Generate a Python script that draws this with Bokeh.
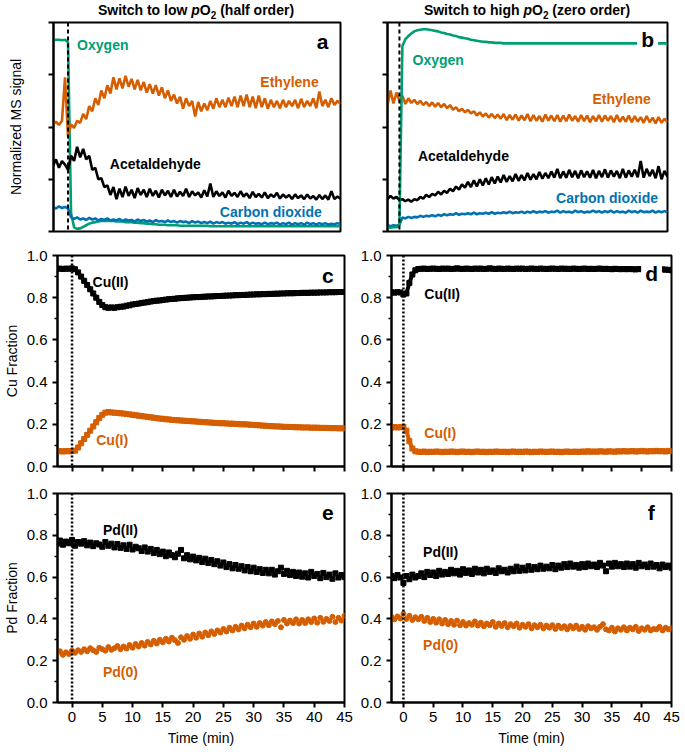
from bokeh.plotting import figure
from bokeh.layouts import column, row
from bokeh.models import Div, Span, Label, FixedTicker, Range1d, PrintfTickFormatter
from bokeh.embed import file_html
from bokeh.resources import INLINE

# ---------------- data ----------------
time_min = [
    -2.5, -2.0, -1.5, -1.0, -0.5, 0.0, 0.5, 1.0, 1.5, 2.0,
    2.5, 3.0, 3.5, 4.0, 4.5, 5.0, 5.5, 6.0, 6.5, 7.0,
    7.5, 8.0, 8.5, 9.0, 9.5, 10.0, 10.5, 11.0, 11.5, 12.0,
    12.5, 13.0, 13.5, 14.0, 14.5, 15.0, 15.5, 16.0, 16.5, 17.0,
    17.5, 18.0, 18.5, 19.0, 19.5, 20.0, 20.5, 21.0, 21.5, 22.0,
    22.5, 23.0, 23.5, 24.0, 24.5, 25.0, 25.5, 26.0, 26.5, 27.0,
    27.5, 28.0, 28.5, 29.0, 29.5, 30.0, 30.5, 31.0, 31.5, 32.0,
    32.5, 33.0, 33.5, 34.0, 34.5, 35.0, 35.5, 36.0, 36.5, 37.0,
    37.5, 38.0, 38.5, 39.0, 39.5, 40.0, 40.5, 41.0, 41.5, 42.0,
    42.5, 43.0, 43.5, 44.0, 44.5, 45.0]

# Panel a: switch to low pO2 (normalized MS signal, arbitrary units 0-4)
oxygen_a = [
    3.66, 3.67, 3.67, 3.66, 3.67, 3.62, 0.35, 0.08, 0.05, 0.06,
    0.09, 0.12, 0.15, 0.17, 0.18, 0.19, 0.20, 0.20, 0.20, 0.20,
    0.20, 0.19, 0.19, 0.19, 0.18, 0.18, 0.18, 0.17, 0.17, 0.16,
    0.16, 0.15, 0.15, 0.14, 0.14, 0.13, 0.13, 0.13, 0.12, 0.12,
    0.12, 0.12, 0.11, 0.11, 0.11, 0.11, 0.11, 0.11, 0.11, 0.11,
    0.11, 0.11, 0.10, 0.10, 0.10, 0.10, 0.10, 0.10, 0.10, 0.10,
    0.10, 0.10, 0.10, 0.10, 0.10, 0.10, 0.10, 0.10, 0.10, 0.10,
    0.10, 0.10, 0.10, 0.10, 0.10, 0.10, 0.10, 0.10, 0.10, 0.10,
    0.10, 0.10, 0.10, 0.10, 0.10, 0.10, 0.10, 0.10, 0.10, 0.10,
    0.10, 0.10, 0.10, 0.10, 0.10, 0.10]
ethylene_a = [
    2.05, 2.10, 2.04, 2.12, 2.95, 1.82, 2.05, 1.98, 2.12, 2.08,
    2.25, 2.15, 2.40, 2.30, 2.55, 2.42, 2.70, 2.55, 2.80, 2.64,
    2.95, 2.72, 2.93, 2.74, 2.98, 2.77, 2.92, 2.72, 2.90, 2.70,
    2.86, 2.66, 2.82, 2.64, 2.80, 2.60, 2.76, 2.55, 2.70, 2.50,
    2.62, 2.45, 2.58, 2.35, 2.55, 2.40, 2.50, 2.20, 2.48, 2.30,
    2.45, 2.32, 2.50, 2.35, 2.55, 2.38, 2.52, 2.38, 2.56, 2.40,
    2.58, 2.38, 2.60, 2.40, 2.62, 2.38, 2.58, 2.36, 2.60, 2.38,
    2.55, 2.35, 2.52, 2.38, 2.50, 2.36, 2.52, 2.38, 2.50, 2.40,
    2.52, 2.36, 2.54, 2.38, 2.50, 2.40, 2.55, 2.36, 2.68, 2.40,
    2.52, 2.38, 2.55, 2.42, 2.50, 2.44]
acetaldehyde_a = [
    1.25, 1.38, 1.22, 1.35, 1.28, 1.18, 1.45, 1.35, 1.62, 1.42,
    1.58, 1.38, 1.45, 1.18, 1.22, 1.00, 1.02, 0.85, 0.88, 0.70,
    0.85, 0.62, 0.82, 0.66, 0.86, 0.68, 0.80, 0.64, 0.83, 0.70,
    0.80, 0.66, 0.82, 0.68, 0.78, 0.65, 0.80, 0.69, 0.78, 0.66,
    0.80, 0.67, 0.76, 0.68, 0.82, 0.66, 0.77, 0.69, 0.75, 0.65,
    0.79, 0.67, 0.92, 0.66, 0.77, 0.68, 0.75, 0.65, 0.78, 0.68,
    0.74, 0.66, 0.77, 0.67, 0.73, 0.64, 0.76, 0.66, 0.72, 0.65,
    0.75, 0.64, 0.71, 0.66, 0.74, 0.63, 0.71, 0.65, 0.70, 0.62,
    0.71, 0.64, 0.69, 0.62, 0.71, 0.63, 0.68, 0.61, 0.70, 0.62,
    0.69, 0.61, 0.77, 0.62, 0.67, 0.63]
co2_a = [
    0.47, 0.44, 0.48, 0.45, 0.47, 0.44, 0.27, 0.24, 0.27, 0.23,
    0.25, 0.22, 0.26, 0.23, 0.25, 0.21, 0.24, 0.22, 0.25, 0.21,
    0.23, 0.21, 0.24, 0.20, 0.23, 0.21, 0.22, 0.19, 0.23, 0.20,
    0.22, 0.19, 0.21, 0.18, 0.22, 0.19, 0.20, 0.18, 0.21, 0.18,
    0.20, 0.17, 0.20, 0.18, 0.19, 0.16, 0.20, 0.17, 0.19, 0.16,
    0.18, 0.16, 0.19, 0.15, 0.18, 0.16, 0.18, 0.15, 0.17, 0.15,
    0.18, 0.14, 0.17, 0.15, 0.18, 0.14, 0.17, 0.15, 0.16, 0.14,
    0.17, 0.14, 0.16, 0.15, 0.17, 0.13, 0.16, 0.14, 0.17, 0.13,
    0.16, 0.14, 0.16, 0.13, 0.17, 0.14, 0.16, 0.13, 0.16, 0.14,
    0.16, 0.13, 0.15, 0.14, 0.16, 0.14]

# Panel b: switch to high pO2
oxygen_b = [
    0.08, 0.08, 0.07, 0.08, 0.08, 0.12, 3.55, 3.68, 3.74, 3.79,
    3.83, 3.85, 3.86, 3.87, 3.87, 3.86, 3.85, 3.84, 3.83, 3.81,
    3.80, 3.78, 3.77, 3.75, 3.74, 3.72, 3.71, 3.70, 3.69, 3.67,
    3.66, 3.65, 3.64, 3.63, 3.63, 3.62, 3.62, 3.61, 3.61, 3.61,
    3.60, 3.60, 3.60, 3.60, 3.60, 3.60, 3.60, 3.60, 3.60, 3.60,
    3.60, 3.60, 3.60, 3.60, 3.60, 3.60, 3.60, 3.60, 3.60, 3.60,
    3.60, 3.60, 3.60, 3.60, 3.60, 3.60, 3.60, 3.60, 3.60, 3.60,
    3.60, 3.60, 3.60, 3.60, 3.60, 3.60, 3.60, 3.60, 3.60, 3.60,
    3.60, 3.60, 3.60, 3.60, 3.60, 3.60, 3.60, 3.60, 3.60, 3.60,
    3.60, 3.60, 3.60, 3.60, 3.60, 3.60]
ethylene_b = [
    2.60, 2.42, 2.70, 2.45, 2.66, 2.50, 2.60, 2.44, 2.55, 2.46,
    2.52, 2.44, 2.50, 2.42, 2.48, 2.40, 2.47, 2.39, 2.46, 2.38,
    2.44, 2.36, 2.42, 2.33, 2.38, 2.30, 2.35, 2.28, 2.33, 2.26,
    2.30, 2.22, 2.28, 2.20, 2.26, 2.18, 2.25, 2.17, 2.24, 2.16,
    2.25, 2.13, 2.23, 2.14, 2.24, 2.12, 2.22, 2.13, 2.25, 2.11,
    2.23, 2.12, 2.21, 2.10, 2.24, 2.12, 2.22, 2.11, 2.23, 2.10,
    2.22, 2.11, 2.24, 2.12, 2.21, 2.10, 2.23, 2.11, 2.22, 2.09,
    2.21, 2.11, 2.23, 2.10, 2.22, 2.12, 2.21, 2.09, 2.23, 2.10,
    2.20, 2.10, 2.22, 2.09, 2.21, 2.10, 2.19, 2.08, 2.21, 2.09,
    2.18, 2.07, 2.19, 2.08, 2.16, 2.09]
acetaldehyde_b = [
    0.66, 0.62, 0.68, 0.63, 0.66, 0.60, 0.62, 0.58, 0.61, 0.57,
    0.62, 0.60, 0.66, 0.63, 0.70, 0.66, 0.72, 0.69, 0.76, 0.71,
    0.78, 0.74, 0.82, 0.77, 0.86, 0.80, 0.90, 0.84, 0.95, 0.85,
    0.98, 0.86, 1.00, 0.88, 1.02, 0.90, 1.04, 0.92, 1.05, 0.94,
    1.08, 0.95, 1.06, 0.96, 1.10, 0.97, 1.08, 0.98, 1.12, 0.99,
    1.10, 1.00, 1.14, 1.01, 1.12, 1.02, 1.15, 1.03, 1.20, 1.02,
    1.15, 1.03, 1.18, 1.04, 1.16, 1.02, 1.17, 1.04, 1.15, 1.03,
    1.18, 1.02, 1.16, 1.04, 1.19, 1.03, 1.17, 1.05, 1.16, 1.02,
    1.20, 1.03, 1.17, 1.05, 1.18, 1.04, 1.35, 1.03, 1.20, 1.06,
    1.18, 1.02, 1.25, 1.00, 1.16, 1.05]
co2_b = [
    0.11, 0.12, 0.10, 0.12, 0.11, 0.13, 0.27, 0.25, 0.28, 0.26,
    0.28, 0.27, 0.30, 0.28, 0.30, 0.29, 0.31, 0.29, 0.32, 0.30,
    0.33, 0.31, 0.33, 0.32, 0.35, 0.32, 0.34, 0.33, 0.35, 0.33,
    0.36, 0.33, 0.35, 0.34, 0.36, 0.34, 0.37, 0.34, 0.36, 0.35,
    0.37, 0.35, 0.38, 0.35, 0.37, 0.36, 0.38, 0.35, 0.38, 0.36,
    0.39, 0.36, 0.38, 0.37, 0.39, 0.36, 0.38, 0.37, 0.40, 0.36,
    0.39, 0.37, 0.38, 0.36, 0.40, 0.37, 0.39, 0.36, 0.38, 0.37,
    0.40, 0.37, 0.39, 0.36, 0.39, 0.37, 0.40, 0.36, 0.39, 0.37,
    0.38, 0.36, 0.40, 0.37, 0.39, 0.36, 0.40, 0.37, 0.38, 0.37,
    0.40, 0.36, 0.39, 0.37, 0.39, 0.37]

# Panel c / d: Cu fractions
cu2_c = [
    0.937, 0.938, 0.936, 0.938, 0.937, 0.939, 0.935, 0.920, 0.900, 0.880,
    0.860, 0.840, 0.820, 0.800, 0.780, 0.765, 0.755, 0.752, 0.754, 0.752,
    0.755, 0.757, 0.758, 0.762, 0.764, 0.768, 0.770, 0.772, 0.775, 0.777,
    0.779, 0.782, 0.784, 0.786, 0.787, 0.789, 0.791, 0.793, 0.794, 0.795,
    0.797, 0.798, 0.799, 0.800, 0.801, 0.802, 0.803, 0.803, 0.804, 0.805,
    0.806, 0.806, 0.807, 0.808, 0.808, 0.809, 0.810, 0.810, 0.811, 0.812,
    0.812, 0.813, 0.813, 0.814, 0.815, 0.815, 0.816, 0.816, 0.817, 0.817,
    0.818, 0.818, 0.819, 0.819, 0.820, 0.820, 0.821, 0.821, 0.821, 0.822,
    0.822, 0.823, 0.823, 0.823, 0.824, 0.824, 0.824, 0.825, 0.825, 0.825,
    0.826, 0.826, 0.826, 0.827, 0.827, 0.827]
cu1_c = [
    0.072, 0.073, 0.071, 0.073, 0.072, 0.073, 0.075, 0.090, 0.110, 0.130,
    0.150, 0.170, 0.190, 0.210, 0.230, 0.245, 0.255, 0.258, 0.256, 0.255,
    0.254, 0.252, 0.251, 0.249, 0.247, 0.245, 0.243, 0.241, 0.239, 0.237,
    0.235, 0.233, 0.231, 0.229, 0.227, 0.226, 0.224, 0.223, 0.221, 0.220,
    0.219, 0.218, 0.217, 0.216, 0.215, 0.214, 0.213, 0.212, 0.211, 0.210,
    0.209, 0.208, 0.207, 0.206, 0.205, 0.205, 0.204, 0.203, 0.203, 0.202,
    0.201, 0.200, 0.200, 0.199, 0.198, 0.197, 0.196, 0.195, 0.194, 0.193,
    0.192, 0.191, 0.190, 0.190, 0.189, 0.188, 0.188, 0.187, 0.187, 0.186,
    0.186, 0.185, 0.185, 0.185, 0.184, 0.184, 0.184, 0.183, 0.183, 0.183,
    0.182, 0.182, 0.182, 0.181, 0.181, 0.181]
cu2_d = [
    0.825, 0.826, 0.824, 0.826, 0.825, 0.815, 0.820, 0.870, 0.910, 0.930,
    0.936, 0.937, 0.938, 0.936, 0.937, 0.938, 0.937, 0.936, 0.938, 0.937,
    0.938, 0.936, 0.937, 0.939, 0.937, 0.936, 0.938, 0.937, 0.936, 0.938,
    0.937, 0.938, 0.936, 0.937, 0.939, 0.937, 0.936, 0.938, 0.937, 0.936,
    0.938, 0.937, 0.936, 0.938, 0.937, 0.938, 0.936, 0.937, 0.938, 0.937,
    0.936, 0.938, 0.937, 0.936, 0.937, 0.938, 0.937, 0.936, 0.938, 0.937,
    0.937, 0.936, 0.938, 0.937, 0.936, 0.937, 0.938, 0.936, 0.937, 0.936,
    0.937, 0.938, 0.936, 0.937, 0.936, 0.935, 0.937, 0.936, 0.935, 0.936,
    0.935, 0.936, 0.935, 0.934, 0.936, 0.935, 0.934, 0.935, 0.934, 0.935,
    0.934, 0.935, 0.934, 0.933, 0.932, 0.930]
cu1_d = [
    0.186, 0.184, 0.187, 0.185, 0.186, 0.188, 0.170, 0.120, 0.085, 0.072,
    0.070, 0.069, 0.071, 0.068, 0.070, 0.069, 0.071, 0.070, 0.068, 0.070,
    0.069, 0.071, 0.070, 0.068, 0.070, 0.071, 0.069, 0.070, 0.068, 0.070,
    0.071, 0.069, 0.070, 0.068, 0.070, 0.069, 0.071, 0.070, 0.069, 0.070,
    0.068, 0.070, 0.071, 0.069, 0.070, 0.069, 0.071, 0.070, 0.068, 0.070,
    0.069, 0.071, 0.070, 0.069, 0.070, 0.071, 0.069, 0.070, 0.068, 0.070,
    0.071, 0.069, 0.070, 0.070, 0.069, 0.071, 0.070, 0.072, 0.070, 0.071,
    0.070, 0.072, 0.071, 0.070, 0.072, 0.071, 0.070, 0.072, 0.071, 0.073,
    0.071, 0.072, 0.073, 0.071, 0.072, 0.074, 0.072, 0.071, 0.073, 0.072,
    0.074, 0.072, 0.073, 0.071, 0.074, 0.073]

# Panel e / f: Pd fractions
pd2_e = [
    0.760, 0.775, 0.755, 0.770, 0.762, 0.778, 0.750, 0.768, 0.760, 0.772,
    0.752, 0.765, 0.748, 0.762, 0.756, 0.745, 0.768, 0.750, 0.760, 0.742,
    0.758, 0.740, 0.752, 0.735, 0.755, 0.732, 0.745, 0.738, 0.725, 0.742,
    0.722, 0.735, 0.715, 0.730, 0.710, 0.722, 0.700, 0.718, 0.705, 0.695,
    0.712, 0.730, 0.690, 0.705, 0.685, 0.698, 0.680, 0.692, 0.672, 0.688,
    0.668, 0.682, 0.662, 0.676, 0.655, 0.670, 0.648, 0.662, 0.642, 0.658,
    0.640, 0.652, 0.632, 0.648, 0.628, 0.645, 0.625, 0.638, 0.620, 0.635,
    0.618, 0.635, 0.612, 0.628, 0.645, 0.615, 0.630, 0.610, 0.625, 0.605,
    0.622, 0.602, 0.618, 0.598, 0.625, 0.605, 0.615, 0.595, 0.620, 0.600,
    0.612, 0.592, 0.618, 0.598, 0.610, 0.600]
pd0_e = [
    0.235, 0.245, 0.228, 0.240, 0.232, 0.248, 0.238, 0.250, 0.242, 0.255,
    0.245, 0.260, 0.250, 0.242, 0.262, 0.255, 0.248, 0.265, 0.252, 0.260,
    0.270, 0.255, 0.268, 0.258, 0.275, 0.262, 0.280, 0.268, 0.285, 0.272,
    0.290, 0.278, 0.295, 0.282, 0.300, 0.288, 0.305, 0.292, 0.310, 0.298,
    0.285, 0.312, 0.300, 0.318, 0.305, 0.325, 0.310, 0.330, 0.315, 0.335,
    0.322, 0.340, 0.328, 0.345, 0.335, 0.352, 0.340, 0.358, 0.345, 0.362,
    0.350, 0.368, 0.355, 0.372, 0.360, 0.378, 0.362, 0.380, 0.368, 0.385,
    0.370, 0.388, 0.375, 0.390, 0.360, 0.395, 0.378, 0.392, 0.380, 0.398,
    0.378, 0.395, 0.380, 0.398, 0.385, 0.402, 0.382, 0.405, 0.386, 0.400,
    0.390, 0.410, 0.385, 0.405, 0.392, 0.415]
pd2_f = [
    0.600, 0.605, 0.595, 0.610, 0.598, 0.572, 0.605, 0.590, 0.612, 0.598,
    0.605, 0.618, 0.600, 0.625, 0.610, 0.622, 0.605, 0.630, 0.612, 0.625,
    0.615, 0.635, 0.618, 0.630, 0.612, 0.638, 0.620, 0.632, 0.615, 0.640,
    0.622, 0.635, 0.618, 0.640, 0.625, 0.632, 0.620, 0.642, 0.628, 0.635,
    0.622, 0.640, 0.628, 0.650, 0.630, 0.645, 0.632, 0.652, 0.635, 0.648,
    0.638, 0.655, 0.640, 0.650, 0.642, 0.658, 0.638, 0.655, 0.645, 0.662,
    0.648, 0.665, 0.650, 0.658, 0.645, 0.662, 0.648, 0.665, 0.652, 0.660,
    0.648, 0.668, 0.655, 0.628, 0.665, 0.650, 0.668, 0.652, 0.662, 0.648,
    0.665, 0.650, 0.662, 0.645, 0.668, 0.652, 0.660, 0.648, 0.665, 0.650,
    0.658, 0.642, 0.660, 0.648, 0.655, 0.645]
pd0_f = [
    0.405, 0.410, 0.398, 0.412, 0.402, 0.425, 0.400, 0.415, 0.395, 0.408,
    0.398, 0.410, 0.390, 0.405, 0.385, 0.400, 0.382, 0.398, 0.378, 0.395,
    0.375, 0.390, 0.372, 0.392, 0.370, 0.385, 0.368, 0.380, 0.372, 0.388,
    0.368, 0.382, 0.365, 0.378, 0.370, 0.385, 0.362, 0.378, 0.366, 0.380,
    0.360, 0.375, 0.365, 0.378, 0.358, 0.372, 0.362, 0.375, 0.355, 0.370,
    0.360, 0.372, 0.355, 0.368, 0.358, 0.370, 0.352, 0.368, 0.356, 0.365,
    0.350, 0.366, 0.355, 0.368, 0.352, 0.362, 0.348, 0.365, 0.355, 0.360,
    0.348, 0.362, 0.375, 0.350, 0.345, 0.358, 0.340, 0.355, 0.348, 0.360,
    0.345, 0.358, 0.350, 0.362, 0.342, 0.355, 0.348, 0.360, 0.345, 0.352,
    0.350, 0.362, 0.345, 0.358, 0.350, 0.355]

ms_ticks = [0, 1, 2, 3, 4]
frac_ticks = [0.0, 0.2, 0.4, 0.6, 0.8, 1.0]
frac_minor = [0.1, 0.3, 0.5, 0.7, 0.9]
time_ticks = [0, 5, 10, 15, 20, 25, 30, 35, 40, 45]

for _name, _arr in list(globals().items()):
    if isinstance(_arr, list) and _name.endswith(("_a", "_b", "_c", "_d", "_e", "_f")):
        assert len(_arr) == len(time_min), _name

# ---------------- styling ----------------
FONT = "Liberation Sans"
GREEN, ORANGE, BLUE, BLACK = "#009E73", "#D55E00", "#0072B2", "#000000"
LEFT = dict(fw=287, bl=53, br=11)
RIGHT = dict(fw=280, bl=36, br=15)
XR_LEFT = (-2.4, 45)
XR_RIGHT = (-2.0, 45)
TICK_FS = "15px"


def style_axis(ax):
    ax.axis_line_width = 2
    ax.axis_line_color = "black"
    ax.major_tick_line_width = 2
    ax.major_tick_in = 0
    ax.major_tick_out = 5
    ax.minor_tick_line_width = 1.5
    ax.minor_tick_in = 0
    ax.minor_tick_out = 3
    ax.major_label_text_font = FONT
    ax.major_label_text_font_size = TICK_FS
    ax.major_label_text_color = "black"
    ax.major_label_standoff = 5
    ax.axis_label_text_font = FONT
    ax.axis_label_text_font_size = "14px"
    ax.axis_label_text_font_style = "normal"
    ax.axis_label_text_color = "black"
    ax.axis_label_standoff = 4


def make(xr, yr, w, fh, bt, bb):
    p = figure(x_range=Range1d(*xr), y_range=Range1d(*yr),
               frame_width=w["fw"], frame_height=fh,
               min_border_left=w["bl"], min_border_right=w["br"],
               min_border_top=bt, min_border_bottom=bb,
               output_backend="svg", toolbar_location=None)
    p.xgrid.visible = False
    p.ygrid.visible = False
    p.outline_line_color = "black"
    p.outline_line_width = 2
    p.outline_line_alpha = 1.0
    p.background_fill_color = "white"
    p.border_fill_color = "white"
    style_axis(p.xaxis[0])
    style_axis(p.yaxis[0])
    return p


def label(p, x, y, text, color, align="left", size="14px", bg=False):
    kw = {}
    if bg:
        kw = dict(background_fill_color="white", background_fill_alpha=1.0, padding=4)
    p.add_layout(Label(x=x, y=y, text=text, text_color=color, text_font=FONT,
                       text_font_size=size, text_font_style="bold",
                       text_align=align, text_baseline="middle", **kw))


def ms_panel(xr, w, show_label):
    p = make(xr, (0, 4), w, 209, 2, 12)
    p.xaxis.visible = False
    p.yaxis[0].ticker = FixedTicker(ticks=ms_ticks)
    p.yaxis[0].major_label_overrides = {t: "" for t in ms_ticks}
    if show_label:
        p.yaxis[0].axis_label = "Normalized MS signal"
        p.yaxis[0].axis_label_standoff = 25
    p.add_layout(Span(location=0, dimension="height", line_color="black",
                      line_width=2, line_dash="4 3"))
    return p


def frac_panel(xr, w, fh, bt, bb, ylabel, xlabels):
    p = make(xr, (0, 1), w, fh, bt, bb)
    p.yaxis[0].ticker = FixedTicker(ticks=frac_ticks, minor_ticks=frac_minor)
    p.yaxis[0].formatter = PrintfTickFormatter(format="%.1f")
    p.xaxis[0].ticker = FixedTicker(ticks=time_ticks)
    if ylabel:
        p.yaxis[0].axis_label = ylabel
    if xlabels:
        p.xaxis[0].axis_label = "Time (min)"
        p.xaxis[0].axis_label_standoff = 5
        p.xaxis[0].major_label_standoff = 4
    else:
        p.xaxis[0].major_label_overrides = {t: "" for t in time_ticks}
    p.add_layout(Span(location=0, dimension="height", line_color="black",
                      line_width=2.5, line_dash="2 2"))
    return p


# ---- panel a ----
pa = ms_panel(XR_LEFT, LEFT, True)
pa.line(time_min, oxygen_a, line_color=GREEN, line_width=2.6)
pa.line(time_min, ethylene_a, line_color=ORANGE, line_width=2.6)
pa.line(time_min, acetaldehyde_a, line_color=BLACK, line_width=2.6)
pa.line(time_min, co2_a, line_color=BLUE, line_width=2.6)
label(pa, 1.5, 3.57, "Oxygen", GREEN)
label(pa, 41.4, 2.86, "Ethylene", ORANGE, "right")
label(pa, 6.9, 1.30, "Acetaldehyde", BLACK)
label(pa, 41.9, 0.38, "Carbon dioxide", BLUE, "right")
label(pa, 43.0, 3.63, "a", BLACK, "right", "21px")

# ---- panel b ----
pb = ms_panel(XR_RIGHT, RIGHT, False)
pb.line(time_min, ethylene_b, line_color=ORANGE, line_width=2.6)
pb.line(time_min, acetaldehyde_b, line_color=BLACK, line_width=2.6)
pb.line(time_min, co2_b, line_color=BLUE, line_width=2.6)
pb.line(time_min, oxygen_b, line_color=GREEN, line_width=2.6)
label(pb, 2.2, 3.28, "Oxygen", GREEN)
label(pb, 42.2, 2.53, "Ethylene", ORANGE, "right")
label(pb, 3.1, 1.44, "Acetaldehyde", BLACK)
label(pb, 43.4, 0.64, "Carbon dioxide", BLUE, "right")
label(pb, 43.4, 3.67, "b", BLACK, "right", "21px", bg=True)

# ---- panel c ----
pc = frac_panel(XR_LEFT, LEFT, 211, 12, 16, "Cu Fraction", False)
for ys, col in ((cu2_c, BLACK), (cu1_c, ORANGE)):
    pc.line(time_min, ys, line_color=col, line_width=4)
    pc.scatter(time_min, ys, marker="square", size=5, fill_color=col, line_color=col)
label(pc, 3.4, 0.873, "Cu(II)", BLACK)
label(pc, 4.0, 0.127, "Cu(I)", ORANGE)
label(pc, 43.2, 0.905, "c", BLACK, "right", "21px")

# ---- panel d ----
pd = frac_panel(XR_RIGHT, RIGHT, 211, 12, 16, None, False)
for ys, col in ((cu2_d, BLACK), (cu1_d, ORANGE)):
    pd.line(time_min, ys, line_color=col, line_width=4)
    pd.scatter(time_min, ys, marker="square", size=5, fill_color=col, line_color=col)
label(pd, 3.5, 0.818, "Cu(II)", BLACK)
label(pd, 3.5, 0.158, "Cu(I)", ORANGE)
label(pd, 43.4, 0.913, "d", BLACK, "right", "21px", bg=True)

# ---- panel e ----
pe = frac_panel(XR_LEFT, LEFT, 209, 11, 48, "Pd Fraction", True)
pe.scatter(time_min, pd2_e, marker="square", size=5, fill_color=BLACK, line_color=BLACK)
pe.scatter(time_min, pd0_e, marker="circle", size=5, fill_color=ORANGE, line_color=ORANGE)
label(pe, 5.1, 0.826, "Pd(II)", BLACK)
label(pe, 5.1, 0.144, "Pd(0)", ORANGE)
label(pe, 43.2, 0.909, "e", BLACK, "right", "21px")

# ---- panel f ----
pf = frac_panel(XR_RIGHT, RIGHT, 209, 11, 48, None, True)
pf.scatter(time_min, pd2_f, marker="square", size=5, fill_color=BLACK, line_color=BLACK)
pf.scatter(time_min, pd0_f, marker="circle", size=5, fill_color=ORANGE, line_color=ORANGE)
label(pf, 3.3, 0.722, "Pd(II)", BLACK)
label(pf, 3.3, 0.277, "Pd(0)", ORANGE)
label(pf, 42.2, 0.909, "f", BLACK, "right", "21px")

# ---- column titles ----
lw = LEFT["bl"] + LEFT["fw"] + LEFT["br"]
rw = RIGHT["bl"] + RIGHT["fw"] + RIGHT["br"]
TSTYLE = ("font-family:'Liberation Sans',Arial,sans-serif;font-weight:bold;font-size:14px;"
          "line-height:20px;height:20px;text-align:center;white-space:nowrap;color:black;")
SUB = '<sub style="font-size:10px;line-height:0;">2</sub>'
ml = 2 * (LEFT["bl"] + LEFT["fw"] // 2) - lw
mr = 2 * (RIGHT["bl"] + RIGHT["fw"] // 2) - rw
title_l = Div(text=(f'<div style="{TSTYLE}margin-left:{ml}px;width:{lw - ml}px;">'
                    f'Switch to low <i>p</i>O{SUB} (half order)</div>'),
              width=lw, height=20, margin=(0, 0, 0, 0))
title_r = Div(text=(f'<div style="{TSTYLE}margin-left:{mr}px;width:{rw - mr}px;">'
                    f'Switch to high <i>p</i>O{SUB} (zero order)</div>'),
              width=rw, height=20, margin=(0, 0, 0, 0))

layout = column(row(title_l, title_r), row(pa, pb), row(pc, pd), row(pe, pf))

open("out.html", "w").write(file_html(layout, INLINE))
